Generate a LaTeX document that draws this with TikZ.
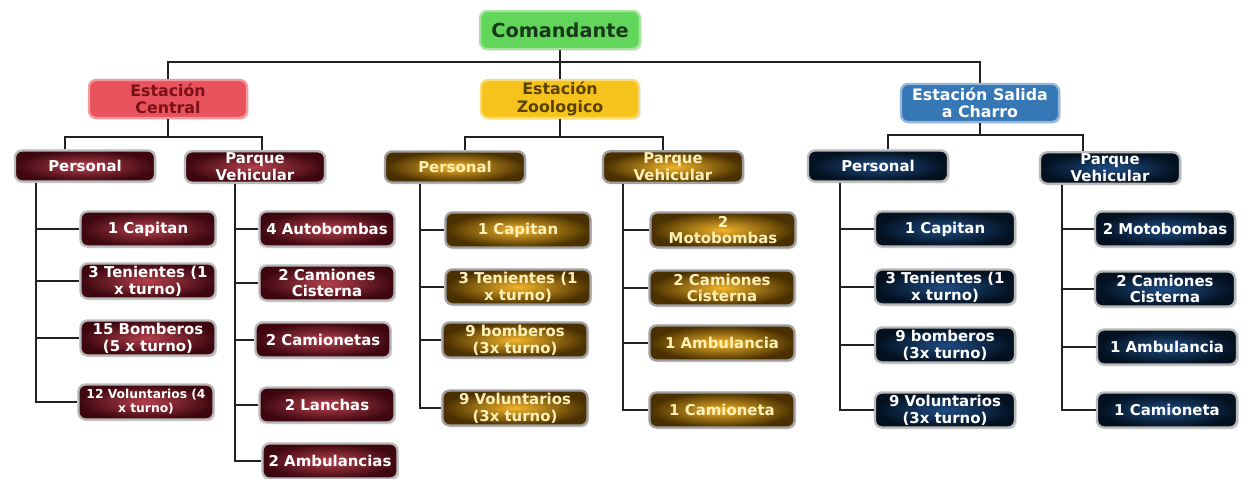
\documentclass[tikz,border=0pt]{standalone}
\usepackage{fontspec}
\setmainfont{DejaVu Sans}
\usetikzlibrary{shadows}

\definecolor{jefeverde}{HTML}{62D65A}
\definecolor{jefeborde}{HTML}{A8E6A0}
\definecolor{jefetexto}{HTML}{17381A}
\definecolor{rojoest}{HTML}{E8535E}
\definecolor{rojoborde}{HTML}{F29A9E}
\definecolor{rojotexto}{HTML}{7A1018}
\definecolor{oroest}{HTML}{F6C21C}
\definecolor{oroborde}{HTML}{F9DC78}
\definecolor{orotextoest}{HTML}{5A4200}
\definecolor{azulest}{HTML}{3677B5}
\definecolor{azulborde}{HTML}{94B6D8}
\definecolor{rojoin}{HTML}{B3404C}
\definecolor{rojoout}{HTML}{3E0710}
\definecolor{oroin}{HTML}{F2B52A}
\definecolor{oroout}{HTML}{4A3000}
\definecolor{orotexto}{HTML}{FFF0B8}
\definecolor{azulin}{HTML}{1E4C82}
\definecolor{azulout}{HTML}{03101F}
\definecolor{lineagris}{HTML}{222222}

\begin{document}
\begin{tikzpicture}[x=0.02cm,y=-0.02cm,
    box/.style={rounded corners=4pt,align=center,inner sep=1pt,line width=1.3pt,draw=gray!55,
      font=\bfseries\fontsize{8.5}{9.5}\selectfont,
      drop shadow={opacity=0.25,shadow xshift=1pt,shadow yshift=-1pt}},
    jefe/.style={box,fill=jefeverde,draw=jefeborde,text=jefetexto,minimum width=3.2cm,minimum height=0.76cm,
      font=\bfseries\fontsize{11}{12}\selectfont},
    estacion/.style={box,minimum width=3.16cm,minimum height=0.76cm,font=\bfseries\fontsize{9}{10}\selectfont},
    rama/.style={box,minimum width=2.8cm,minimum height=0.62cm,text=white},
    item/.style={box,minimum width=2.7cm,minimum height=0.7cm,text=white},
    rojo/.style={inner color=rojoin,outer color=rojoout},
    oro/.style={inner color=oroin,outer color=oroout,text=orotexto,draw=gray!75},
    azul/.style={inner color=azulin,outer color=azulout},
    linea/.style={line width=1.6pt,draw=lineagris}]

\useasboundingbox (0,0) rectangle (1251,479);

% nivel superior
\node[jefe] (com) at (560,30) {Comandante};

\node[estacion,fill=rojoest,draw=rojoborde,text=rojotexto] (ec) at (168,99) {Estación\\Central};
\node[estacion,fill=oroest,draw=oroborde,text=orotextoest] (ez) at (560,99) {Estación\\Zoologico};
\node[estacion,fill=azulest,draw=azulborde,text=white] (es) at (980,103) {Estación Salida\\a Charro};

% ramas
\node[rama,rojo] (cp) at (85,166) {Personal};
\node[rama,rojo] (cv) at (255,167) {Parque\\Vehicular};
\node[rama,oro] (zp) at (455,167) {Personal};
\node[rama,oro] (zv) at (673,167) {Parque\\Vehicular};
\node[rama,azul] (sp) at (878,166) {Personal};
\node[rama,azul] (sv) at (1110,168) {Parque\\Vehicular};

% Estacion Central
\node[item,rojo] (cp1) at (148,229) {1 Capitan};
\node[item,rojo] (cp2) at (148,281) {3 Tenientes (1\\x turno)};
\node[item,rojo] (cp3) at (148,338) {15 Bomberos\\(5 x turno)};
\node[item,rojo,font=\bfseries\fontsize{7}{8}\selectfont] (cp4) at (146,402) {12 Voluntarios (4\\x turno)};
\node[item,rojo] (cv1) at (327,229) {4 Autobombas};
\node[item,rojo] (cv2) at (327,283) {2 Camiones\\Cisterna};
\node[item,rojo] (cv3) at (323,340) {2 Camionetas};
\node[item,rojo] (cv4) at (327,405) {2 Lanchas};
\node[item,rojo] (cv5) at (330,461) {2 Ambulancias};

% Estacion Zoologico
\node[item,oro,minimum width=2.9cm] (zp1) at (518,230) {1 Capitan};
\node[item,oro,minimum width=2.9cm] (zp2) at (518,287) {3 Tenientes (1\\x turno)};
\node[item,oro,minimum width=2.9cm] (zp3) at (515,340) {9 bomberos\\(3x turno)};
\node[item,oro,minimum width=2.9cm] (zp4) at (515,408) {9 Voluntarios\\(3x turno)};
\node[item,oro,minimum width=2.9cm] (zv1) at (723,230) {2\\Motobombas};
\node[item,oro,minimum width=2.9cm] (zv2) at (722,288) {2 Camiones\\Cisterna};
\node[item,oro,minimum width=2.9cm] (zv3) at (722,343) {1 Ambulancia};
\node[item,oro,minimum width=2.9cm] (zv4) at (722,410) {1 Camioneta};

% Estacion Salida a Charro
\node[item,azul,minimum width=2.8cm] (sp1) at (945,229) {1 Capitan};
\node[item,azul,minimum width=2.8cm] (sp2) at (945,287) {3 Tenientes (1\\x turno)};
\node[item,azul,minimum width=2.8cm] (sp3) at (945,345) {9 bomberos\\(3x turno)};
\node[item,azul,minimum width=2.8cm] (sp4) at (945,410) {9 Voluntarios\\(3x turno)};
\node[item,azul,minimum width=2.8cm] (sv1) at (1165,229) {2 Motobombas};
\node[item,azul,minimum width=2.8cm] (sv2) at (1165,289) {2 Camiones\\Cisterna};
\node[item,azul,minimum width=2.8cm] (sv3) at (1167,347) {1 Ambulancia};
\node[item,azul,minimum width=2.8cm] (sv4) at (1167,410) {1 Camioneta};

% conectores
\coordinate (bus) at (560,62);
\draw[linea] (com) -- (ez);
\draw[linea] (ec.north) |- (bus) -| (es.north);

\coordinate (bc) at (168,137);
\coordinate (bz) at (560,137);
\coordinate (bs) at (980,135);
\draw[linea] (ec) -- (bc);
\draw[linea] (ez) -- (bz);
\draw[linea] (es) -- (bs);
\draw[linea] ([xshift=-20*0.02cm]cp.north) |- (bc) -| ([xshift=7*0.02cm]cv.north);
\draw[linea] ([xshift=10*0.02cm]zp.north) |- (bz) -| ([xshift=-10*0.02cm]zv.north);
\draw[linea] ([xshift=10*0.02cm]sp.north) |- (bs) -| ([xshift=-27*0.02cm]sv.north);

\coordinate (tcp) at (36,0);
\coordinate (tcv) at (235,0);
\coordinate (tzp) at (420,0);
\coordinate (tzv) at (623,0);
\coordinate (tsp) at (840,0);
\coordinate (tsv) at (1062,0);

\draw[linea] (cp.south -| tcp) |- (cp4);
\foreach \i in {1,2,3} \draw[linea] (tcp |- cp\i) -- (cp\i);
\draw[linea] (cv.south -| tcv) |- (cv5);
\foreach \i in {1,2,3,4} \draw[linea] (tcv |- cv\i) -- (cv\i);
\draw[linea] (zp.south -| tzp) |- (zp4);
\foreach \i in {1,2,3} \draw[linea] (tzp |- zp\i) -- (zp\i);
\draw[linea] (zv.south -| tzv) |- (zv4);
\foreach \i in {1,2,3} \draw[linea] (tzv |- zv\i) -- (zv\i);
\draw[linea] (sp.south -| tsp) |- (sp4);
\foreach \i in {1,2,3} \draw[linea] (tsp |- sp\i) -- (sp\i);
\draw[linea] (sv.south -| tsv) |- (sv4);
\foreach \i in {1,2,3} \draw[linea] (tsv |- sv\i) -- (sv\i);
\end{tikzpicture}
\end{document}
